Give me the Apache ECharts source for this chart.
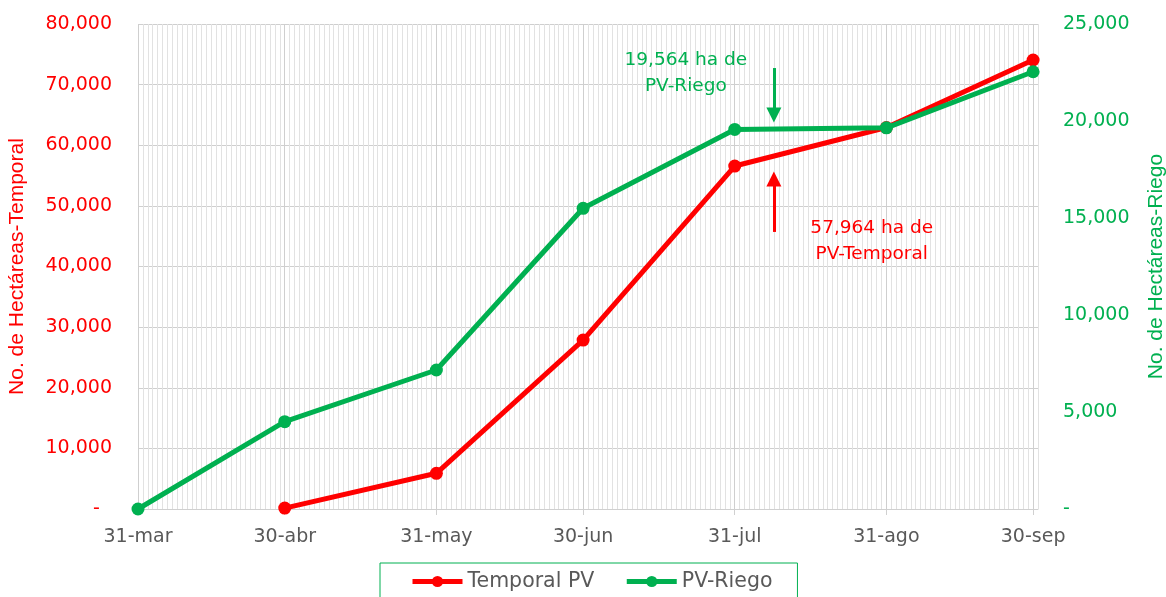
<!DOCTYPE html>
<html><head><meta charset="utf-8">
<script src="https://cdn.jsdelivr.net/npm/echarts@6/dist/echarts.min.js"></script>
<style>html,body{margin:0;padding:0;background:#fff}#c{width:1166px;height:597px}</style>
</head><body><div id="c"></div>
<script>
// ---- data ----
const dates = ['2023-03-31','2023-04-30','2023-05-31','2023-06-30','2023-07-31','2023-08-31','2023-09-30'];
const dateLabels = ['31-mar','30-abr','31-may','30-jun','31-jul','31-ago','30-sep'];
const temporalPV = [null, 150, 5890, 27870, 56570, 62920, 74060];
const riegoPV = [0, 4500, 7165, 15500, 19564, 19650, 22540];
const leftTicks = {min: 0, max: 80000, interval: 10000};
const rightTicks = {min: 0, max: 25000, interval: 5000};
const xStart = '2023-03-31', xEnd = '2023-10-01';
const noteRiego = {text: '19,564 ha de\nPV-Riego', at: ['2023-07-21', 22470]};
const noteTemporal = {text: '57,964 ha de\nPV-Temporal', at: ['2023-08-28', 44200]};
const arrowRiego = [['2023-08-08', 22730], ['2023-08-08', 20310]];
const arrowTemporal = [['2023-08-08', 45700], ['2023-08-08', 54430]];

// date string -> days since start (axis unit)
const toUTC = s => { const p = s.split('-').map(Number); return Date.UTC(p[0], p[1] - 1, p[2]); };
const day = s => Math.round((toUTC(s) - toUTC(xStart)) / 86400000);
const dayTicks = dates.map(day);
const xMaxDay = day(xEnd);

const RED = '#FF0000', GREEN = '#00B050', GREY = '#595959';
const FONT = 'DejaVu Sans';

const chart = echarts.init(document.getElementById('c'), null, {renderer: 'canvas'});
chart.setOption({
  animation: false,
  backgroundColor: '#fff',
  textStyle: {fontFamily: FONT},
  grid: {left: 138, right: 128, top: 24, bottom: 88, containLabel: false, outerBoundsMode: 'none'},
  xAxis: [
    { // daily minor grid
      type: 'value', min: 0, max: xMaxDay, interval: 1, position: 'bottom',
      axisLine: {show: false}, axisTick: {show: false}, axisLabel: {show: false},
      splitLine: {show: true, lineStyle: {color: '#e2e2e2', width: 1}}
    },
    {
      type: 'value', min: 0, max: xMaxDay, position: 'bottom',
      axisLine: {show: true, onZero: false, lineStyle: {color: '#d0d0d0', width: 1}},
      axisTick: {show: true, customValues: dayTicks, length: 6, lineStyle: {color: '#d0d0d0'}},
      axisLabel: {
        show: true, customValues: dayTicks, margin: 19, color: GREY, fontSize: 19, fontFamily: FONT,
        formatter: v => { const i = dayTicks.indexOf(Math.round(v)); return i >= 0 ? dateLabels[i] : ''; }
      },
      splitLine: {show: true, lineStyle: {color: '#cfcfcf', width: 1}}
    }
  ],
  yAxis: [
    {
      type: 'value', min: leftTicks.min, max: leftTicks.max, interval: leftTicks.interval,
      name: 'No. de Hectáreas-Temporal', nameLocation: 'middle', nameGap: 110, nameRotate: 90,
      nameTextStyle: {color: RED, fontSize: 21, fontFamily: 'Liberation Sans'},
      axisLine: {show: false}, axisTick: {show: false},
      axisLabel: {color: RED, fontSize: 19, margin: 26, formatter: v => v === 0 ? '-  ' : v.toLocaleString('en-US')},
      splitLine: {show: true, lineStyle: {color: '#cfcfcf', width: 1}}
    },
    {
      type: 'value', min: rightTicks.min, max: rightTicks.max, interval: rightTicks.interval,
      position: 'right',
      name: 'No. de Hectáreas-Riego', nameLocation: 'middle', nameGap: 108, nameRotate: 90,
      nameTextStyle: {color: GREEN, fontSize: 21, fontFamily: 'Liberation Sans'},
      axisLine: {show: false}, axisTick: {show: false},
      axisLabel: {color: GREEN, fontSize: 19, margin: 25, formatter: v => v === 0 ? '-' : v.toLocaleString('en-US')},
      splitLine: {show: false}
    }
  ],
  legend: {
    top: 563, left: 380,
    padding: [8, 25, 12, 30], itemGap: 30, itemWidth: 50, itemHeight: 14,
    borderColor: GREEN, borderWidth: 1,
    lineStyle: {width: 5},
    textStyle: {color: GREY, fontSize: 20.5, fontFamily: FONT},
    data: ['Temporal PV', 'PV-Riego']
  },
  series: [
    {
      name: 'Temporal PV', type: 'line', xAxisIndex: 1, yAxisIndex: 0,
      data: dates.map((d, i) => [day(d), temporalPV[i]]).filter(p => p[1] !== null),
      symbol: 'circle', symbolSize: 13, lineStyle: {color: RED, width: 5}, itemStyle: {color: RED},
      z: 3,
      markPoint: {
        symbol: 'circle', symbolSize: 0, silent: true,
        label: {show: true, position: 'inside', color: RED, fontSize: 18.5, lineHeight: 26, fontFamily: FONT, formatter: noteTemporal.text},
        data: [{coord: [day(noteTemporal.at[0]), noteTemporal.at[1]], value: 0}]
      },
      markLine: {
        silent: true, symbol: ['none', 'triangle'], symbolSize: 15,
        label: {show: false},
        lineStyle: {color: RED, width: 3, type: 'solid'},
        data: [[{coord: [day(arrowTemporal[0][0]), arrowTemporal[0][1]]}, {coord: [day(arrowTemporal[1][0]), arrowTemporal[1][1]]}]]
      }
    },
    {
      name: 'PV-Riego', type: 'line', xAxisIndex: 1, yAxisIndex: 1,
      data: dates.map((d, i) => [day(d), riegoPV[i]]),
      symbol: 'circle', symbolSize: 13, lineStyle: {color: GREEN, width: 5}, itemStyle: {color: GREEN},
      z: 4,
      markPoint: {
        symbol: 'circle', symbolSize: 0, silent: true,
        label: {show: true, position: 'inside', color: GREEN, fontSize: 18.5, lineHeight: 26, fontFamily: FONT, formatter: noteRiego.text},
        data: [{coord: [day(noteRiego.at[0]), noteRiego.at[1]], value: 0}]
      },
      markLine: {
        silent: true, symbol: ['none', 'triangle'], symbolSize: 15,
        label: {show: false},
        lineStyle: {color: GREEN, width: 3, type: 'solid'},
        data: [[{coord: [day(arrowRiego[0][0]), arrowRiego[0][1]]}, {coord: [day(arrowRiego[1][0]), arrowRiego[1][1]]}]]
      }
    }
  ]
});
</script></body></html>
